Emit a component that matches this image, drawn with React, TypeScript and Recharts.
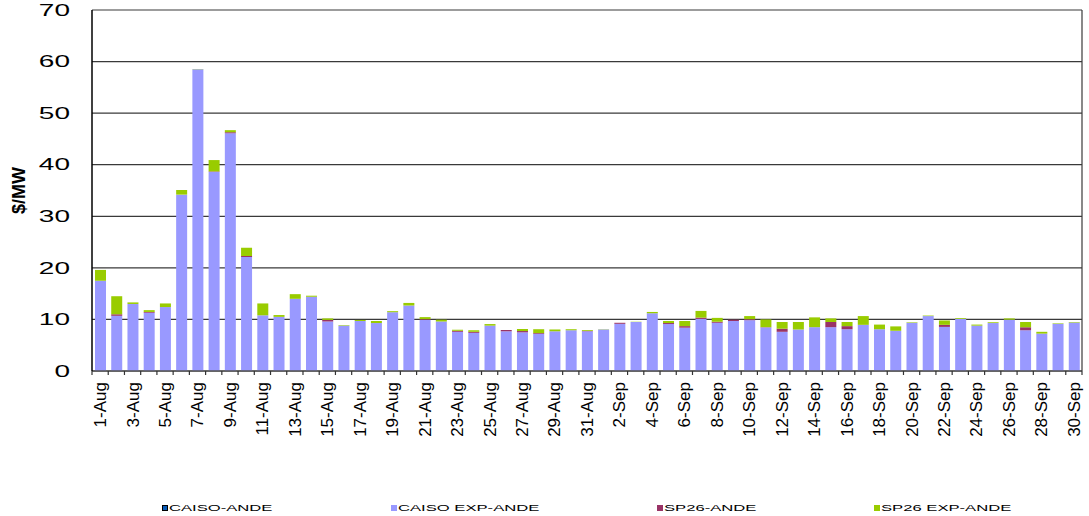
import React from 'react';
import { BarChart, Bar, XAxis, YAxis, CartesianGrid, Legend } from 'recharts';

const days = [
  '1-Aug', '2-Aug', '3-Aug', '4-Aug', '5-Aug', '6-Aug', '7-Aug', '8-Aug', '9-Aug', '10-Aug',
  '11-Aug', '12-Aug', '13-Aug', '14-Aug', '15-Aug', '16-Aug', '17-Aug', '18-Aug', '19-Aug', '20-Aug',
  '21-Aug', '22-Aug', '23-Aug', '24-Aug', '25-Aug', '26-Aug', '27-Aug', '28-Aug', '29-Aug', '30-Aug',
  '31-Aug', '1-Sep', '2-Sep', '3-Sep', '4-Sep', '5-Sep', '6-Sep', '7-Sep', '8-Sep', '9-Sep',
  '10-Sep', '11-Sep', '12-Sep', '13-Sep', '14-Sep', '15-Sep', '16-Sep', '17-Sep', '18-Sep', '19-Sep',
  '20-Sep', '21-Sep', '22-Sep', '23-Sep', '24-Sep', '25-Sep', '26-Sep', '27-Sep', '28-Sep', '29-Sep',
  '30-Sep',
];

// CAISO-ANDE shows nothing visible in the picture
const caisoAnde = days.map(() => 0);

const caisoExpAnde = [
  17.5, 10.7, 13.0, 11.3, 12.4, 34.2, 58.5, 38.6, 46.1, 22.1,
  10.8, 10.5, 14.0, 14.4, 9.6, 8.8, 9.7, 9.3, 11.4, 12.7,
  9.9, 9.6, 7.6, 7.4, 8.8, 7.7, 7.5, 7.2, 7.7, 7.9,
  7.7, 8.05, 9.15, 9.5, 11.2, 9.1, 8.4, 10.1, 9.35, 9.7,
  9.85, 8.45, 7.6, 8.05, 8.5, 8.5, 8.1, 8.95, 8.1, 7.8,
  9.35, 10.65, 8.55, 10.1, 8.8, 9.3, 9.95, 7.9, 7.25, 9.15,
  9.4,
];

const sp26Ande = [
  0, 0.3, 0, 0.15, 0, 0, 0, 0.1, 0.2, 0.2,
  0, 0, 0, 0, 0.3, 0, 0, 0, 0, 0,
  0.15, 0, 0.2, 0.2, 0, 0.25, 0.25, 0.15, 0, 0,
  0.1, 0, 0.2, 0, 0, 0.2, 0.3, 0.25, 0.2, 0.25,
  0.2, 0.05, 0.6, 0, 0, 1.0, 0.6, 0, 0, 0,
  0, 0, 0.4, 0, 0, 0, 0, 0.6, 0, 0,
  0,
];

const sp26ExpAnde = [
  2.1, 3.5, 0.3, 0.35, 0.7, 0.9, 0.05, 2.2, 0.4, 1.6,
  2.3, 0.35, 0.9, 0.2, 0.3, 0.1, 0.2, 0.4, 0.2, 0.5,
  0.4, 0.35, 0.2, 0.3, 0.3, 0, 0.4, 0.75, 0.35, 0.2,
  0.15, 0.05, 0, 0.05, 0.25, 0.4, 1.0, 1.3, 0.75, 0,
  0.6, 1.5, 1.3, 1.45, 1.9, 0.7, 0.8, 1.7, 0.9, 0.85,
  0.1, 0.1, 0.85, 0.15, 0.2, 0.15, 0.25, 1.0, 0.35, 0.1,
  0.1,
];

const yTicks = [0, 10, 20, 30, 40, 50, 60, 70];

const series = [
  { key: 'caisoAnde', name: 'CAISO-ANDE', fill: '#0a5cb8' },
  { key: 'caisoExpAnde', name: 'CAISO EXP-ANDE', fill: '#9999ff' },
  { key: 'sp26Ande', name: 'SP26-ANDE', fill: '#993366' },
  { key: 'sp26ExpAnde', name: 'SP26 EXP-ANDE', fill: '#99cc00' },
];

const data = days.map((day, i) => ({
  day,
  caisoAnde: caisoAnde[i],
  caisoExpAnde: caisoExpAnde[i],
  sp26Ande: sp26Ande[i],
  sp26ExpAnde: sp26ExpAnde[i],
}));

const W = 1089;
const H = 516;
const LEFT = 92;
const RIGHT_GAP = 7;
const FONT = '"Liberation Sans", Arial, sans-serif';
const STRETCH = 1.75; // the source renders horizontal text wide
const band = (W - LEFT - RIGHT_GAP) / days.length;

let canvas: HTMLCanvasElement | null = null;
function textWidth(s: string, font: string) {
  if (!canvas) canvas = document.createElement('canvas');
  const ctx = canvas.getContext('2d');
  if (!ctx) return s.length * 6;
  ctx.font = font;
  return ctx.measureText(s).width;
}

function DayTick(props: any) {
  const { x, y, payload, index } = props;
  const axisY = y - 8;
  return (
    <g>
      <line x1={x - band / 2} x2={x - band / 2} y1={axisY} y2={axisY + 4} stroke="#333" strokeWidth={1.2} />
      {index === days.length - 1 && (
        <line x1={x + band / 2} x2={x + band / 2} y1={axisY} y2={axisY + 4} stroke="#333" strokeWidth={1.2} />
      )}
      {index % 2 === 0 && (
        <text
          x={x}
          y={y + 3}
          dy="0.35em"
          textAnchor="end"
          transform={`rotate(-90, ${x}, ${y + 3})`}
          fontSize={17}
          fontFamily={FONT}
          fill="#000"
        >
          {payload.value}
        </text>
      )}
    </g>
  );
}

function ValueTick(props: any) {
  const { x, y, payload } = props;
  return (
    <g transform={`translate(${x},${y})`}>
      <text transform={`scale(${STRETCH},1)`} textAnchor="end" dy="0.36em" fontSize={16} fontFamily={FONT} fill="#000">
        {payload.value}
      </text>
    </g>
  );
}

function renderLegend() {
  const fontSize = 9.5;
  return (
    <div style={{ height: 30, display: 'flex', justifyContent: 'center', alignItems: 'flex-end', gap: 118 }}>
      {series.map((s) => {
        const w = textWidth(s.name, `${fontSize}px ${FONT}`) * STRETCH;
        return (
          <div key={s.key} style={{ display: 'flex', alignItems: 'center', height: 16 }}>
            <span
              style={{
                width: 6,
                height: 6,
                background: s.fill,
                border: s.key === 'caisoAnde' ? '1px solid #000' : 'none',
                boxSizing: 'border-box',
                marginRight: 1,
              }}
            />
            <span style={{ display: 'inline-block', width: w, height: 12, position: 'relative' }}>
              <span
                style={{
                  position: 'absolute',
                  left: 0,
                  top: 0,
                  fontSize,
                  lineHeight: '12px',
                  fontFamily: FONT,
                  color: '#000',
                  whiteSpace: 'nowrap',
                  transform: `scaleX(${STRETCH})`,
                  transformOrigin: 'left center',
                }}
              >
                {s.name}
              </span>
            </span>
          </div>
        );
      })}
    </div>
  );
}

export default function App() {
  return (
    <div style={{ position: 'absolute', left: 0, top: 0, width: W, height: H, background: '#fff' }}>
      <BarChart
        width={W}
        height={H}
        data={data}
        margin={{ top: 10, right: 0, left: 0, bottom: 0 }}
        barSize={11}
      >
        <CartesianGrid vertical={false} stroke="#3a3a3a" strokeWidth={1.2} />
        <XAxis
          dataKey="day"
          interval={0}
          height={115}
          tickLine={false}
          tickMargin={2}
          tick={<DayTick />}
          axisLine={{ stroke: '#555', strokeWidth: 1.5 }}
        />
        <YAxis
          domain={[0, 70]}
          ticks={yTicks}
          width={LEFT}
          tickLine={false}
          tickMargin={16}
          tick={<ValueTick />}
          axisLine={{ stroke: '#000', strokeWidth: 1.5 }}
          label={{
            value: '$/MW',
            content: (p: any) => {
              const vb = p.viewBox || { x: 0, y: 10, width: LEFT, height: 361 };
              const cx = vb.x + 19;
              const cy = vb.y + vb.height / 2;
              return (
                <text
                  x={cx}
                  y={cy}
                  dy="0.35em"
                  textAnchor="middle"
                  transform={`rotate(-90, ${cx}, ${cy})`}
                  fontSize={18}
                  fontWeight="bold"
                  fontFamily={FONT}
                  fill="#000"
                >
                  $/MW
                </text>
              );
            },
          }}
        />
        <YAxis
          yAxisId="frame"
          orientation="right"
          domain={[0, 70]}
          width={RIGHT_GAP}
          tick={false}
          tickLine={false}
          axisLine={{ stroke: '#3a3a3a', strokeWidth: 1.2 }}
        />
        <Legend
          verticalAlign="bottom"
          height={30}
          content={renderLegend}
          wrapperStyle={{ left: LEFT, width: W - LEFT - RIGHT_GAP }}
        />
        {series.map((s) => (
          <Bar
            key={s.key}
            dataKey={s.key}
            name={s.name}
            stackId="a"
            fill={s.fill}
            isAnimationActive={false}
          />
        ))}
      </BarChart>
    </div>
  );
}
